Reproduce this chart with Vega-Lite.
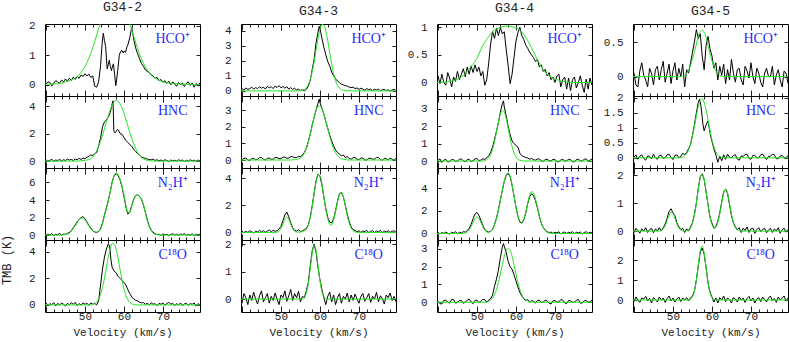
{
"$schema":"https://vega.github.io/schema/vega-lite/v6.json",
"padding":0,
"background":"white",
"title":{"text":"TMB (K)","orient":"left","anchor":"middle","dx":-91,"offset":14,"fontSize":12},
"datasets":{
"labs":[{"p":"a1","m":"HCO⁺"},{"p":"a2","m":"HNC"},{"p":"a3","m":"N₂H⁺"},{"p":"a4","m":"C¹⁸O"},{"p":"b1","m":"HCO⁺"},{"p":"b2","m":"HNC"},{"p":"b3","m":"N₂H⁺"},{"p":"b4","m":"C¹⁸O"},{"p":"c1","m":"HCO⁺"},{"p":"c2","m":"HNC"},{"p":"c3","m":"N₂H⁺"},{"p":"c4","m":"C¹⁸O"},{"p":"d1","m":"HCO⁺"},{"p":"d2","m":"HNC"},{"p":"d3","m":"N₂H⁺"},{"p":"d4","m":"C¹⁸O"}],
"a1":[{"v":39.5,"o":0.05,"f":0.02},{"v":40,"o":0.02,"f":0.02},{"v":40.5,"o":0.1},{"v":41,"o":0.08,"f":0.02},{"v":41.5,"o":-0.04},{"v":42,"o":0.06,"f":0.03},{"v":42.5,"o":0.14},{"v":43,"o":0.1,"f":0.04},{"v":43.5,"o":0.05},{"v":44,"o":0.16,"f":0.06},{"v":44.5,"o":0.1},{"v":45,"o":0.2,"f":0.1},{"v":45.5,"o":0.12},{"v":46,"o":0.22,"f":0.14},{"v":46.5,"o":0.15},{"v":47,"o":0.26,"f":0.2},{"v":47.5,"o":0.18},{"v":48,"o":0.28,"f":0.28},{"v":48.5,"o":0.22},{"v":49,"o":0.33,"f":0.42},{"v":49.5,"o":0.28},{"v":50,"o":0.37,"f":0.62},{"v":50.5,"o":0.3},{"v":51,"o":0.36,"f":0.9},{"v":51.5,"o":0.25},{"v":52,"o":0.3,"f":1.26},{"v":52.5,"o":-0.05},{"v":53,"o":-0.08,"f":1.68},{"v":53.5,"o":0.1},{"v":54,"o":0.65,"f":2.12},{"v":54.4,"o":1.4},{"v":54.7,"o":1.75},{"v":55,"o":1.5,"f":2.52},{"v":55.3,"o":1.29},{"v":55.7,"o":0.54},{"v":56,"o":0.7,"f":2.85},{"v":56.25,"o":0.83},{"v":56.5,"o":0.62},{"v":56.8,"o":0.48},{"v":57,"o":0.6,"f":3.04},{"v":57.3,"o":0.71},{"v":57.6,"o":0.35},{"v":57.9,"o":-0.03},{"v":58,"o":0.05,"f":3.07},{"v":58.4,"o":0.48},{"v":58.8,"o":1},{"v":59,"o":1.08,"f":2.94},{"v":59.4,"o":1.17},{"v":59.8,"o":1.08},{"v":60,"o":1.14,"f":2.66},{"v":60.4,"o":1.1},{"v":60.8,"o":1.3},{"v":61,"o":1.35,"f":2.29},{"v":61.5,"o":1.6},{"v":62,"o":1.95,"f":1.86},{"v":62.5,"o":1.55},{"v":63,"o":1.25,"f":1.43},{"v":63.5,"o":1.05},{"v":64,"o":0.88,"f":1.04},{"v":64.5,"o":0.72},{"v":65,"o":0.62,"f":0.72},{"v":65.5,"o":0.5},{"v":66,"o":0.45,"f":0.5},{"v":66.5,"o":0.42},{"v":67,"o":0.33,"f":0.33},{"v":67.5,"o":0.3},{"v":68,"o":0.22,"f":0.22},{"v":68.5,"o":0.25},{"v":69,"o":0.14,"f":0.15},{"v":69.5,"o":0.18},{"v":70,"o":0.08,"f":0.1},{"v":70.5,"o":0.14},{"v":71,"o":0.05,"f":0.07},{"v":71.5,"o":0.12},{"v":72,"o":0,"f":0.05},{"v":72.5,"o":0.1},{"v":73,"o":0.03,"f":0.04},{"v":73.5,"o":-0.05},{"v":74,"o":0.08,"f":0.03},{"v":74.5,"o":0},{"v":75,"o":0.06,"f":0.02},{"v":75.5,"o":-0.06},{"v":76,"o":0.05,"f":0.015},{"v":76.5,"o":0.1},{"v":77,"o":-0.02,"f":0.01},{"v":77.5,"o":0.06},{"v":78,"o":-0.08,"f":0.01},{"v":78.5,"o":0.04},{"v":79,"o":0,"f":0.01},{"v":79.5,"o":0.06,"f":0.01}],
"a2":[{"v":39.5,"o":0.05,"f":0},{"v":40,"o":0.1},{"v":40.5,"o":-0.02},{"v":41,"o":0.06},{"v":41.5,"o":0.12},{"v":42,"o":0},{"v":42.5,"o":0.08},{"v":43,"o":0.04},{"v":43.5,"o":0.12},{"v":44,"o":0.02},{"v":44.5,"o":0.1},{"v":45,"o":0.05},{"v":45.5,"o":0.14},{"v":46,"o":0.08},{"v":46.5,"o":0.12},{"v":47,"o":0.05},{"v":47.5,"o":0.15},{"v":48,"o":0.1,"f":0},{"v":48.5,"o":0.2},{"v":49,"o":0.12,"f":0.02},{"v":49.5,"o":0.22},{"v":50,"o":0.18,"f":0.06},{"v":50.5,"o":0.28},{"v":51,"o":0.35,"f":0.12},{"v":51.5,"o":0.45},{"v":52,"o":0.4,"f":0.3},{"v":52.5,"o":0.55},{"v":53,"o":0.62,"f":0.75},{"v":53.5,"o":1.1},{"v":54,"o":1.7,"f":1.45},{"v":54.5,"o":2.5},{"v":55,"o":2.85,"f":2.36},{"v":55.5,"o":3},{"v":56,"o":3.2,"f":3.31},{"v":56.5,"o":3.55},{"v":57,"o":4.2,"f":4.08},{"v":57.2,"o":4.38},{"v":57.4,"o":2.2},{"v":57.7,"o":2.05},{"v":58,"o":2.15,"f":4.41},{"v":58.3,"o":2.3},{"v":58.6,"o":2.25},{"v":59,"o":2,"f":4.18},{"v":59.5,"o":1.95},{"v":60,"o":1.72,"f":3.49},{"v":60.5,"o":1.5},{"v":61,"o":1.35,"f":2.55},{"v":61.5,"o":1.2},{"v":62,"o":1.08,"f":1.64},{"v":62.5,"o":0.85},{"v":63,"o":0.7,"f":0.93},{"v":63.5,"o":0.55},{"v":64,"o":0.42,"f":0.4},{"v":64.5,"o":0.3},{"v":65,"o":0.25,"f":0.15},{"v":65.5,"o":0.2},{"v":66,"o":0.15,"f":0.06},{"v":66.5,"o":0.12},{"v":67,"o":0.1,"f":0.02},{"v":67.5,"o":0.14},{"v":68,"o":0.05,"f":0},{"v":68.5,"o":0.1},{"v":69,"o":0.02},{"v":69.5,"o":0.08},{"v":70,"o":0},{"v":70.5,"o":0.1},{"v":71,"o":0.04},{"v":71.5,"o":-0.04},{"v":72,"o":0.08},{"v":72.5,"o":0.02},{"v":73,"o":0.06},{"v":73.5,"o":0},{"v":74,"o":0.1},{"v":74.5,"o":0.03},{"v":75,"o":0.08},{"v":75.5,"o":-0.03},{"v":76,"o":0.06},{"v":76.5,"o":0},{"v":77,"o":0.1},{"v":77.5,"o":0.02},{"v":78,"o":0.07},{"v":78.5,"o":-0.02},{"v":79,"o":0.08},{"v":79.5,"o":0.03,"f":0}],
"a3":[{"v":39.5,"o":0.1,"f":0},{"v":40,"o":-0.05},{"v":40.5,"o":0.12},{"v":41,"o":0.02},{"v":41.5,"o":0.15},{"v":42,"o":-0.08},{"v":42.5,"o":0.1},{"v":43,"o":0.05},{"v":43.5,"o":0.18,"f":0},{"v":44,"o":0,"f":0.02},{"v":44.5,"o":0.12,"f":0.04},{"v":45,"o":0.08,"f":0.06},{"v":45.5,"o":0.2,"f":0.12},{"v":46,"o":0.3,"f":0.2},{"v":46.5,"o":0.5,"f":0.45},{"v":47,"o":0.85,"f":0.75},{"v":47.5,"o":1.15,"f":1.05},{"v":48,"o":1.5,"f":1.4},{"v":48.5,"o":1.8,"f":1.75},{"v":49,"o":2,"f":1.92},{"v":49.5,"o":2.1,"f":1.95},{"v":50,"o":1.85,"f":1.75},{"v":50.5,"o":1.5,"f":1.4},{"v":51,"o":1.1,"f":1.05},{"v":51.5,"o":0.8,"f":0.7},{"v":52,"o":0.5,"f":0.45},{"v":52.5,"o":0.35,"f":0.35},{"v":53,"o":0.3,"f":0.35},{"v":53.5,"o":0.4,"f":0.45},{"v":54,"o":0.7,"f":0.65},{"v":54.5,"o":1.4,"f":1.3},{"v":55,"o":2.3,"f":2.2},{"v":55.5,"o":3.1,"f":3},{"v":56,"o":4,"f":3.9},{"v":56.5,"o":5,"f":5},{"v":57,"o":6.1,"f":6},{"v":57.5,"o":6.8,"f":6.8},{"v":58,"o":7,"f":7.1},{"v":58.5,"o":6.8,"f":6.9},{"v":59,"o":6.3,"f":6.4},{"v":59.5,"o":5.5,"f":5.6},{"v":60,"o":4.4,"f":4.6},{"v":60.5,"o":3.2,"f":3.4},{"v":61,"o":2.4,"f":2.55},{"v":61.5,"o":2.6,"f":2.6},{"v":62,"o":3.4,"f":3.3},{"v":62.5,"o":4.1,"f":4},{"v":63,"o":4.5,"f":4.45},{"v":63.5,"o":4.6,"f":4.6},{"v":64,"o":4.4,"f":4.45},{"v":64.5,"o":4.1,"f":4},{"v":65,"o":3.4,"f":3.5},{"v":65.5,"o":2.6,"f":2.5},{"v":66,"o":1.7,"f":1.6},{"v":66.5,"o":1,"f":0.95},{"v":67,"o":0.55,"f":0.5},{"v":67.5,"o":0.3,"f":0.2},{"v":68,"o":0.15,"f":0.1},{"v":68.5,"o":0.05,"f":0.05},{"v":69,"o":0.1,"f":0.02},{"v":69.5,"o":-0.05,"f":0},{"v":70,"o":0.12},{"v":70.5,"o":0.02},{"v":71,"o":0.1},{"v":71.5,"o":-0.06},{"v":72,"o":0.08},{"v":72.5,"o":0.15},{"v":73,"o":0},{"v":73.5,"o":0.1},{"v":74,"o":-0.05},{"v":74.5,"o":0.12},{"v":75,"o":0.05},{"v":75.5,"o":0.18},{"v":76,"o":-0.04},{"v":76.5,"o":0.08},{"v":77,"o":0},{"v":77.5,"o":0.14},{"v":78,"o":-0.08},{"v":78.5,"o":0.1},{"v":79,"o":0.04},{"v":79.5,"o":0.12,"f":0}],
"a4":[{"v":39.5,"o":0.05,"f":0},{"v":40,"o":0.15},{"v":40.5,"o":-0.05},{"v":41,"o":0.1},{"v":41.5,"o":0.02},{"v":42,"o":0.18},{"v":42.5,"o":-0.08},{"v":43,"o":0.12},{"v":43.5,"o":0},{"v":44,"o":0.15},{"v":44.5,"o":0.05},{"v":45,"o":-0.08},{"v":45.5,"o":0.12},{"v":46,"o":0.02},{"v":46.5,"o":0.16},{"v":47,"o":0.05},{"v":47.5,"o":0.2},{"v":48,"o":-0.05},{"v":48.5,"o":0.1},{"v":49,"o":0},{"v":49.5,"o":0.15},{"v":50,"o":0.05},{"v":50.5,"o":0.12},{"v":51,"o":-0.02},{"v":51.5,"o":0.15,"f":0},{"v":52,"o":0.05,"f":0.04},{"v":52.5,"o":0.12,"f":0.1},{"v":53,"o":0,"f":0.22},{"v":53.5,"o":0.3,"f":0.43},{"v":54,"o":1.5,"f":0.79},{"v":54.5,"o":2.7,"f":1.32},{"v":55,"o":3.6,"f":2.01},{"v":55.5,"o":4.2,"f":2.82},{"v":56,"o":4.6,"f":3.62},{"v":56.3,"o":4.45},{"v":56.5,"f":4.27,"o":3.9},{"v":56.7,"o":3.3},{"v":57,"o":2.8,"f":4.62},{"v":57.5,"o":2.55,"f":4.58},{"v":58,"o":2.4,"f":4.16},{"v":58.5,"o":2.15,"f":3.47},{"v":59,"o":2,"f":2.66},{"v":59.5,"o":1.85,"f":1.87},{"v":60,"o":1.7,"f":1.2},{"v":60.5,"o":1.5,"f":0.71},{"v":61,"o":1.15,"f":0.38},{"v":61.5,"o":0.85,"f":0.2},{"v":62,"o":0.6,"f":0.09},{"v":62.5,"o":0.45,"f":0.04},{"v":63,"o":0.35,"f":0.01},{"v":63.5,"o":0.3,"f":0},{"v":64,"o":0.22},{"v":64.5,"o":0.15},{"v":65,"o":0.18},{"v":65.5,"o":0.05},{"v":66,"o":0.12},{"v":66.5,"o":0.02},{"v":67,"o":0.15},{"v":67.5,"o":0.05},{"v":68,"o":0.1},{"v":68.5,"o":-0.05},{"v":69,"o":0.12},{"v":69.5,"o":0.05},{"v":70,"o":0.15},{"v":70.5,"o":-0.02},{"v":71,"o":0.1},{"v":71.5,"o":0.2},{"v":72,"o":0.05},{"v":72.5,"o":0.12},{"v":73,"o":-0.05},{"v":73.5,"o":0.1},{"v":74,"o":0},{"v":74.5,"o":0.15},{"v":75,"o":-0.05},{"v":75.5,"o":0.08},{"v":76,"o":0.12},{"v":76.5,"o":-0.02},{"v":77,"o":0.1},{"v":77.5,"o":0.05},{"v":78,"o":0.15},{"v":78.5,"o":-0.08},{"v":79,"o":0.1},{"v":79.5,"o":0,"f":0}],
"b1":[{"v":39.5,"o":0.1,"f":0},{"v":40,"o":0.18},{"v":40.5,"o":0.05},{"v":41,"o":0.2},{"v":41.5,"o":0.1},{"v":42,"o":0.15},{"v":42.5,"o":0.25},{"v":43,"o":0.12},{"v":43.5,"o":0.22},{"v":44,"o":0.15},{"v":44.5,"o":0.28},{"v":45,"o":0.18},{"v":45.5,"o":0.25},{"v":46,"o":0.12},{"v":46.5,"o":0.3},{"v":47,"o":0.2},{"v":47.5,"o":0.28},{"v":48,"o":0.15},{"v":48.5,"o":0.32},{"v":49,"o":0.22},{"v":49.5,"o":0.35},{"v":50,"o":0.2},{"v":50.5,"o":0.3},{"v":51,"o":0.18},{"v":51.5,"o":0.28},{"v":52,"o":0.12},{"v":52.5,"o":0.22},{"v":53,"o":0.1},{"v":53.5,"o":0.18},{"v":54,"o":0.05},{"v":54.5,"o":0.12,"f":0},{"v":55,"o":0.02,"f":0.02},{"v":55.5,"o":0.08,"f":0.05},{"v":56,"o":0,"f":0.1},{"v":56.5,"o":0.1,"f":0.2},{"v":57,"o":0.3,"f":0.42},{"v":57.5,"o":0.7,"f":0.76},{"v":58,"o":1.4,"f":1.27},{"v":58.5,"o":2.1,"f":1.93},{"v":59,"o":3.2,"f":2.7},{"v":59.5,"o":3.9,"f":3.47},{"v":59.8,"o":4.3},{"v":60,"o":4.1,"f":4.09},{"v":60.2,"o":3.9},{"v":60.5,"o":3.5,"f":4.42},{"v":61,"o":2.9,"f":4.38},{"v":61.5,"o":2.4,"f":3.99},{"v":62,"o":1.95,"f":3.33},{"v":62.5,"o":1.65,"f":2.54},{"v":63,"o":1.25,"f":1.79},{"v":63.5,"o":1,"f":1.15},{"v":64,"o":0.8,"f":0.68},{"v":64.5,"o":0.65,"f":0.37},{"v":65,"o":0.55,"f":0.18},{"v":65.5,"o":0.45,"f":0.08},{"v":66,"o":0.4,"f":0.04},{"v":66.5,"o":0.35,"f":0.02},{"v":67,"o":0.32,"f":0.01},{"v":67.5,"o":0.25,"f":0},{"v":68,"o":0.22},{"v":68.5,"o":0.25},{"v":69,"o":0.15},{"v":69.5,"o":0.2},{"v":70,"o":0.1},{"v":70.5,"o":0.18},{"v":71,"o":0.12},{"v":71.5,"o":0.05},{"v":72,"o":0.15},{"v":72.5,"o":0.08},{"v":73,"o":0.12},{"v":73.5,"o":0.02},{"v":74,"o":0.1},{"v":74.5,"o":0.05},{"v":75,"o":0.12},{"v":75.5,"o":0},{"v":76,"o":0.08},{"v":76.5,"o":0.1},{"v":77,"o":0.02},{"v":77.5,"o":0.08},{"v":78,"o":-0.02},{"v":78.5,"o":0.06},{"v":79,"o":0.1},{"v":79.5,"o":0.02,"f":0}],
"b2":[{"v":39.5,"o":0.05,"f":0},{"v":40,"o":0.02},{"v":40.5,"o":0.1},{"v":41,"o":0.12},{"v":41.5,"o":0},{"v":42,"o":-0.03},{"v":42.5,"o":0.08},{"v":43,"o":0.1},{"v":43.5,"o":0.02},{"v":44,"o":0.05},{"v":44.5,"o":0.14},{"v":45,"o":0.15},{"v":45.5,"o":0.05},{"v":46,"o":0},{"v":46.5,"o":0.1},{"v":47,"o":0.12},{"v":47.5,"o":0.04},{"v":48,"o":0.05},{"v":48.5,"o":0.15},{"v":49,"o":0.15},{"v":49.5,"o":0.08},{"v":50,"o":0.08},{"v":50.5,"o":0.16},{"v":51,"o":0.18},{"v":51.5,"o":0.1},{"v":52,"o":0.12},{"v":52.5,"o":0.2,"f":0},{"v":53,"o":0.2,"f":0.01},{"v":53.5,"o":0.15,"f":0.02},{"v":54,"o":0.15,"f":0.03},{"v":54.5,"o":0.22,"f":0.06},{"v":55,"o":0.2,"f":0.12},{"v":55.5,"o":0.3,"f":0.22},{"v":56,"o":0.45,"f":0.41},{"v":56.5,"o":0.7,"f":0.69},{"v":57,"o":1.1,"f":1.06},{"v":57.5,"o":1.55,"f":1.53},{"v":58,"o":2.1,"f":2.04},{"v":58.5,"o":2.55,"f":2.55},{"v":59,"o":3,"f":2.97},{"v":59.5,"o":3.4,"f":3.21},{"v":59.8,"o":3.65},{"v":60,"o":3.45,"f":3.24},{"v":60.2,"o":3.3},{"v":60.5,"o":3.1,"f":3.07},{"v":61,"o":2.75,"f":2.76},{"v":61.5,"o":2.3,"f":2.34},{"v":62,"o":1.9,"f":1.87},{"v":62.5,"o":1.5,"f":1.42},{"v":63,"o":1.15,"f":1.01},{"v":63.5,"o":0.85,"f":0.69},{"v":64,"o":0.6,"f":0.44},{"v":64.5,"o":0.45,"f":0.27},{"v":65,"o":0.35,"f":0.15},{"v":65.5,"o":0.25,"f":0.08},{"v":66,"o":0.3,"f":0.04},{"v":66.5,"o":0.15,"f":0.02},{"v":67,"o":0.2,"f":0.01},{"v":67.5,"o":0.1,"f":0},{"v":68,"o":0.05},{"v":68.5,"o":0.14},{"v":69,"o":0.15},{"v":69.5,"o":0.05},{"v":70,"o":0.02},{"v":70.5,"o":0.12},{"v":71,"o":0.12},{"v":71.5,"o":0},{"v":72,"o":0},{"v":72.5,"o":0.1},{"v":73,"o":0.1},{"v":73.5,"o":0.05},{"v":74,"o":0.05},{"v":74.5,"o":0.15},{"v":75,"o":0.15},{"v":75.5,"o":0.03},{"v":76,"o":-0.02},{"v":76.5,"o":0.1},{"v":77,"o":0.08},{"v":77.5,"o":0},{"v":78,"o":0.12},{"v":78.5,"o":0.05},{"v":79,"o":0},{"v":79.5,"o":0.1,"f":0}],
"b3":[{"v":39.5,"o":0.05,"f":0},{"v":40,"o":0.1},{"v":40.5,"o":-0.02},{"v":41,"o":0.08},{"v":41.5,"o":0},{"v":42,"o":0.12},{"v":42.5,"o":0.05},{"v":43,"o":-0.05},{"v":43.5,"o":0.1},{"v":44,"o":0.02},{"v":44.5,"o":0.15},{"v":45,"o":0.05},{"v":45.5,"o":0.12},{"v":46,"o":0},{"v":46.5,"o":0.1},{"v":47,"o":0.18},{"v":47.5,"o":0.05},{"v":48,"o":0.15},{"v":48.5,"o":0.08,"f":0},{"v":49,"o":0.12,"f":0.02},{"v":49.5,"o":0.25,"f":0.09},{"v":50,"o":0.45,"f":0.28},{"v":50.5,"o":0.85,"f":0.6},{"v":51,"o":1.3,"f":0.97},{"v":51.5,"o":1.5,"f":1.13},{"v":52,"o":1.15,"f":0.97},{"v":52.5,"o":0.7,"f":0.6},{"v":53,"o":0.35,"f":0.28},{"v":53.5,"o":0.15,"f":0.09},{"v":54,"o":0.1,"f":0.03},{"v":54.5,"o":0.2,"f":0.02},{"v":55,"o":0.05,"f":0.03},{"v":55.5,"o":0.12,"f":0.06},{"v":56,"o":0.2,"f":0.12},{"v":56.5,"o":0.3,"f":0.22},{"v":57,"o":0.55,"f":0.53},{"v":57.5,"o":1.1,"f":1.07},{"v":58,"o":1.95,"f":1.87},{"v":58.5,"o":2.9,"f":2.84},{"v":59,"o":3.8,"f":3.73},{"v":59.5,"o":4.3,"f":4.25},{"v":60,"o":4.15,"f":4.19},{"v":60.5,"o":3.5,"f":3.58},{"v":61,"o":2.6,"f":2.64},{"v":61.5,"o":1.75,"f":1.7},{"v":62,"o":1.1,"f":1},{"v":62.5,"o":0.75,"f":0.6},{"v":63,"o":0.7,"f":0.55},{"v":63.5,"o":1,"f":0.92},{"v":64,"o":1.6,"f":1.54},{"v":64.5,"o":2.3,"f":2.25},{"v":65,"o":2.85,"f":2.8},{"v":65.5,"o":2.95,"f":2.94},{"v":66,"o":2.6,"f":2.62},{"v":66.5,"o":2,"f":1.97},{"v":67,"o":1.35,"f":1.26},{"v":67.5,"o":0.8,"f":0.68},{"v":68,"o":0.4,"f":0.31},{"v":68.5,"o":0.2,"f":0.12},{"v":69,"o":0.15,"f":0.04},{"v":69.5,"o":0.05,"f":0.01},{"v":70,"o":0.12,"f":0},{"v":70.5,"o":0},{"v":71,"o":0.1},{"v":71.5,"o":0.05},{"v":72,"o":0.15},{"v":72.5,"o":-0.02},{"v":73,"o":0.08},{"v":73.5,"o":0.12},{"v":74,"o":0},{"v":74.5,"o":0.1},{"v":75,"o":0.05},{"v":75.5,"o":0.15},{"v":76,"o":-0.03},{"v":76.5,"o":0.1},{"v":77,"o":0.04},{"v":77.5,"o":0.12},{"v":78,"o":0},{"v":78.5,"o":0.08},{"v":79,"o":0.12},{"v":79.5,"o":0.02,"f":0}],
"b4":[{"v":39.5,"o":0.1,"f":0},{"v":40,"o":-0.15},{"v":40.5,"o":0.2},{"v":41,"o":0.05},{"v":41.5,"o":-0.2},{"v":42,"o":0.15},{"v":42.5,"o":-0.05},{"v":43,"o":0.25},{"v":43.5,"o":0},{"v":44,"o":-0.18},{"v":44.5,"o":0.12},{"v":45,"o":0.3},{"v":45.5,"o":-0.1},{"v":46,"o":0.05},{"v":46.5,"o":0.2},{"v":47,"o":-0.15},{"v":47.5,"o":0.1},{"v":48,"o":-0.05},{"v":48.5,"o":0.22},{"v":49,"o":0},{"v":49.5,"o":-0.2},{"v":50,"o":0.15},{"v":50.5,"o":0.05},{"v":51,"o":0.3},{"v":51.5,"o":-0.08},{"v":52,"o":0.12},{"v":52.5,"o":0.35},{"v":53,"o":-0.05},{"v":53.5,"o":0.2},{"v":54,"o":0.05},{"v":54.5,"o":0.28},{"v":55,"o":-0.1,"f":0},{"v":55.5,"o":0.1,"f":0.02},{"v":56,"o":0.05,"f":0.07},{"v":56.5,"o":0.3,"f":0.22},{"v":57,"o":0.6,"f":0.56},{"v":57.5,"o":1.2,"f":1.1},{"v":58,"o":1.75,"f":1.67},{"v":58.5,"o":2,"f":1.96},{"v":59,"o":1.7,"f":1.76},{"v":59.5,"o":1.15,"f":1.23},{"v":60,"o":0.7,"f":0.66},{"v":60.5,"o":0.35,"f":0.27},{"v":61,"o":0.05,"f":0.09},{"v":61.5,"o":-0.2,"f":0.02},{"v":62,"o":0.1,"f":0},{"v":62.5,"o":0.25},{"v":63,"o":-0.1},{"v":63.5,"o":0.15},{"v":64,"o":-0.2},{"v":64.5,"o":0.05},{"v":65,"o":0.2},{"v":65.5,"o":-0.15},{"v":66,"o":0.1},{"v":66.5,"o":0},{"v":67,"o":0.22},{"v":67.5,"o":-0.1},{"v":68,"o":0.15},{"v":68.5,"o":-0.05},{"v":69,"o":0.18},{"v":69.5,"o":0},{"v":70,"o":-0.15},{"v":70.5,"o":0.1},{"v":71,"o":0.2},{"v":71.5,"o":-0.08},{"v":72,"o":0.05},{"v":72.5,"o":0.2},{"v":73,"o":-0.12},{"v":73.5,"o":0.1},{"v":74,"o":0},{"v":74.5,"o":0.25},{"v":75,"o":-0.1},{"v":75.5,"o":0.12},{"v":76,"o":0.02},{"v":76.5,"o":-0.18},{"v":77,"o":0.15},{"v":77.5,"o":0.05},{"v":78,"o":0.22},{"v":78.5,"o":-0.05},{"v":79,"o":0.1},{"v":79.5,"o":-0.1,"f":0}],
"c1":[{"v":39.5,"o":0.05,"f":0},{"v":40,"o":0.12,"f":0},{"v":40.5,"o":-0.02},{"v":41,"o":0.15,"f":0.01},{"v":41.5,"o":0},{"v":42,"o":-0.05,"f":0.01},{"v":42.5,"o":0.18},{"v":43,"o":0.08,"f":0.02},{"v":43.5,"o":-0.08},{"v":44,"o":0.1,"f":0.03},{"v":44.5,"o":0.02},{"v":45,"o":0.2,"f":0.06},{"v":45.5,"o":0.05},{"v":46,"o":0.15,"f":0.1},{"v":46.5,"o":0.25},{"v":47,"o":0.1,"f":0.16},{"v":47.5,"o":0.28},{"v":48,"o":0.15,"f":0.25},{"v":48.5,"o":0.3},{"v":49,"o":0.18,"f":0.33},{"v":49.5,"o":0.32},{"v":50,"o":0.2,"f":0.44},{"v":50.5,"o":0.28},{"v":51,"o":0.12,"f":0.6},{"v":51.5,"o":0.2},{"v":52,"o":-0.05,"f":0.73},{"v":52.5,"o":0.05},{"v":53,"o":0.35,"f":0.83},{"v":53.5,"o":0.7},{"v":54,"o":0.92,"f":0.92},{"v":54.5,"o":0.8},{"v":55,"o":0.98,"f":0.97},{"v":55.5,"o":0.85},{"v":56,"o":1,"f":1},{"v":56.5,"o":0.88},{"v":57,"o":0.92,"f":1.02},{"v":57.5,"o":0.6},{"v":58,"o":0.3,"f":1.02},{"v":58.5,"o":-0.02},{"v":59,"o":0.15,"f":1.01},{"v":59.5,"o":0.45},{"v":60,"o":0.75,"f":0.99},{"v":60.5,"o":0.9},{"v":61,"o":1,"f":0.95},{"v":61.5,"o":0.85},{"v":62,"o":0.78,"f":0.87},{"v":62.5,"o":0.68},{"v":63,"o":0.62,"f":0.76},{"v":63.5,"o":0.55},{"v":64,"o":0.5,"f":0.63},{"v":64.5,"o":0.45},{"v":65,"o":0.38,"f":0.48},{"v":65.5,"o":0.42},{"v":66,"o":0.28,"f":0.35},{"v":66.5,"o":0.32},{"v":67,"o":0.2,"f":0.23},{"v":67.5,"o":0.24},{"v":68,"o":0.12,"f":0.15},{"v":68.5,"o":0.18},{"v":69,"o":0.05,"f":0.1},{"v":69.5,"o":0.1},{"v":70,"o":0,"f":0.06},{"v":70.5,"o":0.12},{"v":71,"o":0.15,"f":0.04},{"v":71.5,"o":-0.08},{"v":72,"o":0.05,"f":0.02},{"v":72.5,"o":0.1},{"v":73,"o":-0.12,"f":0.01},{"v":73.5,"o":0.08},{"v":74,"o":-0.15,"f":0},{"v":74.5,"o":0.05},{"v":75,"o":0.1},{"v":75.5,"o":-0.1},{"v":76,"o":0},{"v":76.5,"o":0.12},{"v":77,"o":-0.05},{"v":77.5,"o":-0.18},{"v":78,"o":0.06},{"v":78.5,"o":-0.12},{"v":79,"o":0.08},{"v":79.5,"o":-0.05,"f":0}],
"c2":[{"v":39.5,"o":0,"f":0},{"v":40,"o":0.05},{"v":40.5,"o":0.12},{"v":41,"o":-0.08},{"v":41.5,"o":0.05},{"v":42,"o":0.1},{"v":42.5,"o":-0.05},{"v":43,"o":-0.03},{"v":43.5,"o":0.08},{"v":44,"o":0.08},{"v":44.5,"o":-0.02},{"v":45,"o":0},{"v":45.5,"o":0.1},{"v":46,"o":0.12},{"v":46.5,"o":0.02},{"v":47,"o":-0.05},{"v":47.5,"o":0.08},{"v":48,"o":0.1},{"v":48.5,"o":-0.04},{"v":49,"o":0.02},{"v":49.5,"o":0.12},{"v":50,"o":0.15},{"v":50.5,"o":0.02},{"v":51,"o":0.05},{"v":51.5,"o":0.12,"f":0},{"v":52,"o":0.1,"f":0.03},{"v":52.5,"o":0.18,"f":0.08},{"v":53,"o":0.3,"f":0.17},{"v":53.5,"o":0.5,"f":0.36},{"v":54,"o":0.8,"f":0.67},{"v":54.5,"o":1.25,"f":1.11},{"v":55,"o":1.7,"f":1.66},{"v":55.5,"o":2.2,"f":2.23},{"v":56,"o":2.8,"f":2.68},{"v":56.5,"o":3.3,"f":2.9},{"v":56.8,"o":3.45},{"v":57,"o":3.1,"f":2.8},{"v":57.5,"o":2.6,"f":2.43},{"v":58,"o":2,"f":1.89},{"v":58.5,"o":1.5,"f":1.32},{"v":59,"o":1.15,"f":0.83},{"v":59.5,"o":1,"f":0.46},{"v":60,"o":0.9,"f":0.24},{"v":60.5,"o":0.8,"f":0.11},{"v":61,"o":0.45,"f":0.04},{"v":61.5,"o":0.3,"f":0.02},{"v":62,"o":0.25,"f":0},{"v":62.5,"o":0.2},{"v":63,"o":0.18},{"v":63.5,"o":0.1},{"v":64,"o":0.15},{"v":64.5,"o":0.08},{"v":65,"o":0.05},{"v":65.5,"o":0.12},{"v":66,"o":0.12},{"v":66.5,"o":0},{"v":67,"o":-0.02},{"v":67.5,"o":0.08},{"v":68,"o":0.1},{"v":68.5,"o":0.02},{"v":69,"o":0},{"v":69.5,"o":0.1},{"v":70,"o":0.08},{"v":70.5,"o":-0.03},{"v":71,"o":-0.05},{"v":71.5,"o":0.06},{"v":72,"o":0.1},{"v":72.5,"o":0},{"v":73,"o":0.02},{"v":73.5,"o":0.1},{"v":74,"o":0.08},{"v":74.5,"o":-0.04},{"v":75,"o":-0.05},{"v":75.5,"o":0.08},{"v":76,"o":0.1},{"v":76.5,"o":0.02},{"v":77,"o":0},{"v":77.5,"o":0.1},{"v":78,"o":0.12},{"v":78.5,"o":0},{"v":79,"o":0.05},{"v":79.5,"o":0.12,"f":0}],
"c3":[{"v":39.5,"o":0.05,"f":0},{"v":40,"o":0.1},{"v":40.5,"o":-0.05},{"v":41,"o":0.08},{"v":41.5,"o":0},{"v":42,"o":0.12},{"v":42.5,"o":0.02},{"v":43,"o":-0.06},{"v":43.5,"o":0.1},{"v":44,"o":0.05},{"v":44.5,"o":0.15},{"v":45,"o":-0.02},{"v":45.5,"o":0.1},{"v":46,"o":0.05,"f":0},{"v":46.5,"o":0.15,"f":0.01},{"v":47,"o":0.12,"f":0.04},{"v":47.5,"o":0.25,"f":0.12},{"v":48,"o":0.45,"f":0.29},{"v":48.5,"o":0.8,"f":0.59},{"v":49,"o":1.3,"f":0.97},{"v":49.5,"o":1.7,"f":1.31},{"v":50,"o":1.85,"f":1.45},{"v":50.5,"o":1.6,"f":1.31},{"v":51,"o":1.15,"f":0.97},{"v":51.5,"o":0.7,"f":0.59},{"v":52,"o":0.35,"f":0.29},{"v":52.5,"o":0.2,"f":0.12},{"v":53,"o":0.12,"f":0.1},{"v":53.5,"o":0.2,"f":0.18},{"v":54,"o":0.35,"f":0.38},{"v":54.5,"o":0.8,"f":0.79},{"v":55,"o":1.35,"f":1.32},{"v":55.5,"o":2.1,"f":2.04},{"v":56,"o":2.95,"f":2.9},{"v":56.5,"o":3.8,"f":3.82},{"v":57,"o":4.6,"f":4.63},{"v":57.5,"o":5.1,"f":5.19},{"v":58,"o":5.3,"f":5.36},{"v":58.5,"o":5,"f":5.05},{"v":59,"o":4.25,"f":4.3},{"v":59.5,"o":3.3,"f":3.32},{"v":60,"o":2.3,"f":2.32},{"v":60.5,"o":1.5,"f":1.55},{"v":61,"o":1,"f":1.07},{"v":61.5,"o":0.9,"f":0.97},{"v":62,"o":1.2,"f":1.25},{"v":62.5,"o":1.8,"f":1.87},{"v":63,"o":2.6,"f":2.65},{"v":63.5,"o":3.25,"f":3.35},{"v":64,"o":3.5,"f":3.69},{"v":64.5,"o":3.35,"f":3.56},{"v":65,"o":2.9,"f":3.05},{"v":65.5,"o":2.25,"f":2.32},{"v":66,"o":1.5,"f":1.57},{"v":66.5,"o":0.9,"f":0.94},{"v":67,"o":0.5,"f":0.5},{"v":67.5,"o":0.3,"f":0.24},{"v":68,"o":0.15,"f":0.1},{"v":68.5,"o":0.08,"f":0.04},{"v":69,"o":0.12,"f":0.01},{"v":69.5,"o":0,"f":0},{"v":70,"o":0.1},{"v":70.5,"o":0.05},{"v":71,"o":0.15},{"v":71.5,"o":-0.05},{"v":72,"o":0.08},{"v":72.5,"o":0.12},{"v":73,"o":0},{"v":73.5,"o":0.1},{"v":74,"o":0.05},{"v":74.5,"o":0.15},{"v":75,"o":-0.02},{"v":75.5,"o":0.1},{"v":76,"o":0.05},{"v":76.5,"o":0.12},{"v":77,"o":-0.05},{"v":77.5,"o":0.08},{"v":78,"o":0.15},{"v":78.5,"o":0},{"v":79,"o":0.1},{"v":79.5,"o":0.05,"f":0}],
"c4":[{"v":39.5,"o":0.1,"f":0},{"v":40,"o":0.05},{"v":40.5,"o":-0.08},{"v":41,"o":-0.1},{"v":41.5,"o":0.1},{"v":42,"o":0.12},{"v":42.5,"o":0},{"v":43,"o":-0.05},{"v":43.5,"o":0.15},{"v":44,"o":0.15},{"v":44.5,"o":-0.05},{"v":45,"o":-0.02},{"v":45.5,"o":0.1},{"v":46,"o":0.1},{"v":46.5,"o":-0.06},{"v":47,"o":0},{"v":47.5,"o":0.12},{"v":48,"o":0.18},{"v":48.5,"o":0.02},{"v":49,"o":-0.08},{"v":49.5,"o":0.1},{"v":50,"o":0.12},{"v":50.5,"o":-0.03},{"v":51,"o":0.05},{"v":51.5,"o":0.15},{"v":52,"o":0.15},{"v":52.5,"o":0,"f":0},{"v":53,"o":0.12,"f":0.05},{"v":53.5,"o":0.2,"f":0.12},{"v":54,"o":0.4,"f":0.23},{"v":54.5,"o":0.9,"f":0.42},{"v":55,"o":1.3,"f":0.71},{"v":55.5,"o":1.8,"f":1.11},{"v":56,"o":2.5,"f":1.59},{"v":56.5,"o":3.1,"f":2.11},{"v":56.8,"o":3.3},{"v":57,"o":3.15,"f":2.58},{"v":57.5,"o":2.8,"f":2.91},{"v":58,"o":2.3,"f":3.03},{"v":58.5,"o":2,"f":2.91},{"v":59,"o":1.85,"f":2.58},{"v":59.5,"o":1.55,"f":2.11},{"v":60,"o":1.2,"f":1.59},{"v":60.5,"o":0.85,"f":1.11},{"v":61,"o":0.55,"f":0.71},{"v":61.5,"o":0.35,"f":0.42},{"v":62,"o":0.2,"f":0.23},{"v":62.5,"o":0.1,"f":0.12},{"v":63,"o":0.15,"f":0.05},{"v":63.5,"o":0,"f":0.02},{"v":64,"o":0.1,"f":0},{"v":64.5,"o":0.05},{"v":65,"o":-0.05},{"v":65.5,"o":0.1},{"v":66,"o":0.12},{"v":66.5,"o":-0.02},{"v":67,"o":0},{"v":67.5,"o":0.12},{"v":68,"o":0.08},{"v":68.5,"o":-0.06},{"v":69,"o":-0.1},{"v":69.5,"o":0.08},{"v":70,"o":0.1},{"v":70.5,"o":0},{"v":71,"o":0.02},{"v":71.5,"o":0.15},{"v":72,"o":0.12},{"v":72.5,"o":-0.04},{"v":73,"o":-0.08},{"v":73.5,"o":0.1},{"v":74,"o":0.08},{"v":74.5,"o":0},{"v":75,"o":0},{"v":75.5,"o":0.12},{"v":76,"o":0.15},{"v":76.5,"o":-0.05},{"v":77,"o":-0.05},{"v":77.5,"o":0.08},{"v":78,"o":0.1},{"v":78.5,"o":0},{"v":79,"o":0.02},{"v":79.5,"o":0.12,"f":0}],
"d1":[{"v":39.5,"o":0.1,"f":0},{"v":40,"o":0.05},{"v":40.5,"o":-0.12},{"v":41,"o":-0.15},{"v":41.5,"o":0.08},{"v":42,"o":0.2},{"v":42.5,"o":0.02},{"v":43,"o":-0.05},{"v":43.5,"o":-0.15},{"v":44,"o":0.12},{"v":44.5,"o":0.05},{"v":45,"o":-0.12},{"v":45.5,"o":0.1},{"v":46,"o":0.15},{"v":46.5,"o":-0.05},{"v":47,"o":0.1},{"v":47.5,"o":0.22},{"v":48,"o":-0.08},{"v":48.5,"o":0.05},{"v":49,"o":0.18},{"v":49.5,"o":-0.1},{"v":50,"o":0.08},{"v":50.5,"o":0.2},{"v":51,"o":-0.05},{"v":51.5,"o":0.12,"f":0},{"v":52,"o":0,"f":0},{"v":52.5,"o":0.18,"f":0.01},{"v":53,"o":-0.15,"f":0.02},{"v":53.5,"o":0.1,"f":0.05},{"v":54,"o":0.05,"f":0.09},{"v":54.5,"o":0.2,"f":0.16},{"v":55,"o":0.35,"f":0.25},{"v":55.5,"o":0.5,"f":0.36},{"v":56,"o":0.68,"f":0.47},{"v":56.5,"o":0.55,"f":0.58},{"v":57,"o":0.62,"f":0.65},{"v":57.5,"o":0.3,"f":0.67},{"v":58,"o":0.1,"f":0.64},{"v":58.5,"o":0.45,"f":0.56},{"v":59,"o":0.58,"f":0.45},{"v":59.5,"o":0.4,"f":0.33},{"v":60,"o":0.3,"f":0.23},{"v":60.5,"o":0.12,"f":0.14},{"v":61,"o":0.2,"f":0.08},{"v":61.5,"o":-0.05,"f":0.04},{"v":62,"o":0.15,"f":0.02},{"v":62.5,"o":0.02,"f":0.01},{"v":63,"o":0.18,"f":0},{"v":63.5,"o":-0.1},{"v":64,"o":0.1},{"v":64.5,"o":-0.05},{"v":65,"o":0.25},{"v":65.5,"o":0.05},{"v":66,"o":-0.08},{"v":66.5,"o":0.1},{"v":67,"o":0.12},{"v":67.5,"o":-0.05},{"v":68,"o":-0.12},{"v":68.5,"o":0.15},{"v":69,"o":0.08},{"v":69.5,"o":-0.02},{"v":70,"o":0.2},{"v":70.5,"o":0},{"v":71,"o":-0.1},{"v":71.5,"o":0.12},{"v":72,"o":0.05},{"v":72.5,"o":-0.08},{"v":73,"o":-0.15},{"v":73.5,"o":0.05},{"v":74,"o":0.12},{"v":74.5,"o":0},{"v":75,"o":0},{"v":75.5,"o":0.15},{"v":76,"o":-0.12},{"v":76.5,"o":0.02},{"v":77,"o":0.1},{"v":77.5,"o":-0.05},{"v":78,"o":-0.15},{"v":78.5,"o":0.08},{"v":79,"o":0.05},{"v":79.5,"o":-0.1,"f":0}],
"d2":[{"v":39.5,"o":0.05,"f":0},{"v":40,"o":0.02},{"v":40.5,"o":0.1},{"v":41,"o":-0.05},{"v":41.5,"o":0.05},{"v":42,"o":0.1},{"v":42.5,"o":-0.02},{"v":43,"o":-0.08},{"v":43.5,"o":0.06},{"v":44,"o":0.05},{"v":44.5,"o":-0.04},{"v":45,"o":0.12},{"v":45.5,"o":0},{"v":46,"o":-0.05},{"v":46.5,"o":0.08},{"v":47,"o":0.08},{"v":47.5,"o":-0.02},{"v":48,"o":0},{"v":48.5,"o":0.1},{"v":49,"o":0.12},{"v":49.5,"o":0.02},{"v":50,"o":-0.06},{"v":50.5,"o":0.08},{"v":51,"o":0.1},{"v":51.5,"o":0,"f":0},{"v":52,"o":0.05,"f":0.01},{"v":52.5,"o":0.15,"f":0.03},{"v":53,"o":0.1,"f":0.07},{"v":53.5,"o":0.18,"f":0.14},{"v":54,"o":0.3,"f":0.26},{"v":54.5,"o":0.45,"f":0.45},{"v":55,"o":0.75,"f":0.72},{"v":55.5,"o":1.1,"f":1.05},{"v":56,"o":1.5,"f":1.4},{"v":56.5,"o":1.85,"f":1.71},{"v":56.8,"o":1.95},{"v":57,"o":1.85,"f":1.92},{"v":57.2,"o":1.7},{"v":57.5,"o":1.35,"f":1.97},{"v":57.7,"o":1.1},{"v":58,"o":0.9,"f":1.85},{"v":58.5,"o":1.1,"f":1.59},{"v":58.9,"o":1.22},{"v":59,"o":1.2,"f":1.26},{"v":59.3,"o":1},{"v":59.5,"o":0.85,"f":0.91},{"v":59.7,"o":0.7},{"v":60,"o":0.55,"f":0.6},{"v":60.5,"o":0.3,"f":0.37},{"v":61,"o":0.1,"f":0.2},{"v":61.5,"o":-0.15,"f":0.1},{"v":62,"o":0.05,"f":0.05},{"v":62.5,"o":-0.1,"f":0.02},{"v":63,"o":0.1,"f":0.01},{"v":63.5,"o":-0.05,"f":0},{"v":64,"o":0.12},{"v":64.5,"o":0.02},{"v":65,"o":0},{"v":65.5,"o":0.08},{"v":66,"o":0.1},{"v":66.5,"o":-0.04},{"v":67,"o":-0.08},{"v":67.5,"o":0.06},{"v":68,"o":0.05},{"v":68.5,"o":0.1},{"v":69,"o":0.12},{"v":69.5,"o":-0.02},{"v":70,"o":-0.05},{"v":70.5,"o":0.08},{"v":71,"o":0.08},{"v":71.5,"o":0},{"v":72,"o":0},{"v":72.5,"o":0.1},{"v":73,"o":0.12},{"v":73.5,"o":0.02},{"v":74,"o":-0.06},{"v":74.5,"o":0.05},{"v":75,"o":0.05},{"v":75.5,"o":0.12},{"v":76,"o":0.1},{"v":76.5,"o":-0.03},{"v":77,"o":-0.03},{"v":77.5,"o":0.06},{"v":78,"o":0.08},{"v":78.5,"o":0},{"v":79,"o":0},{"v":79.5,"o":0.08,"f":0}],
"d3":[{"v":39.5,"o":0.05,"f":0},{"v":40,"o":-0.05},{"v":40.5,"o":0.1},{"v":41,"o":0.02},{"v":41.5,"o":-0.08},{"v":42,"o":0.08},{"v":42.5,"o":0},{"v":43,"o":0.12},{"v":43.5,"o":-0.05},{"v":44,"o":0.05},{"v":44.5,"o":0.1},{"v":45,"o":-0.06},{"v":45.5,"o":0.08},{"v":46,"o":0},{"v":46.5,"o":0.12,"f":0},{"v":47,"o":0,"f":0.02},{"v":47.5,"o":0.12,"f":0.07},{"v":48,"o":0.25,"f":0.19},{"v":48.5,"o":0.45,"f":0.37},{"v":49,"o":0.7,"f":0.57},{"v":49.5,"o":0.8,"f":0.68},{"v":50,"o":0.65,"f":0.63},{"v":50.5,"o":0.55,"f":0.45},{"v":51,"o":0.3,"f":0.26},{"v":51.5,"o":0.15,"f":0.11},{"v":52,"o":0.05,"f":0.04},{"v":52.5,"o":0.1,"f":0.01},{"v":53,"o":-0.05,"f":0},{"v":53.5,"o":0.08,"f":0.01},{"v":54,"o":0,"f":0.04},{"v":54.5,"o":0.15,"f":0.11},{"v":55,"o":0.3,"f":0.28},{"v":55.5,"o":0.6,"f":0.57},{"v":56,"o":1,"f":1.01},{"v":56.5,"o":1.55,"f":1.51},{"v":57,"o":1.95,"f":1.91},{"v":57.5,"o":2.05,"f":2.04},{"v":58,"o":1.85,"f":1.85},{"v":58.5,"o":1.4,"f":1.41},{"v":59,"o":0.95,"f":0.92},{"v":59.5,"o":0.5,"f":0.5},{"v":60,"o":0.28,"f":0.24},{"v":60.5,"o":0.1,"f":0.13},{"v":61,"o":0.15,"f":0.15},{"v":61.5,"o":0.35,"f":0.31},{"v":62,"o":0.65,"f":0.61},{"v":62.5,"o":1.05,"f":1},{"v":63,"o":1.4,"f":1.36},{"v":63.5,"o":1.5,"f":1.5},{"v":64,"o":1.35,"f":1.36},{"v":64.5,"o":0.95,"f":1},{"v":65,"o":0.55,"f":0.61},{"v":65.5,"o":0.3,"f":0.3},{"v":66,"o":0.15,"f":0.12},{"v":66.5,"o":0.05,"f":0.04},{"v":67,"o":0.12,"f":0.01},{"v":67.5,"o":-0.05,"f":0},{"v":68,"o":0.1},{"v":68.5,"o":0.02},{"v":69,"o":0.15},{"v":69.5,"o":-0.05},{"v":70,"o":0.08},{"v":70.5,"o":0.1},{"v":71,"o":-0.08},{"v":71.5,"o":0.05},{"v":72,"o":0.12},{"v":72.5,"o":-0.02},{"v":73,"o":0.06},{"v":73.5,"o":0.1},{"v":74,"o":-0.06},{"v":74.5,"o":0.04},{"v":75,"o":0.1},{"v":75.5,"o":-0.05},{"v":76,"o":0.08},{"v":76.5,"o":0},{"v":77,"o":0.12},{"v":77.5,"o":-0.08},{"v":78,"o":0.05},{"v":78.5,"o":0.1},{"v":79,"o":-0.04},{"v":79.5,"o":0.06,"f":0}],
"d4":[{"v":39.5,"o":0.1,"f":0},{"v":40,"o":-0.08},{"v":40.5,"o":0.15},{"v":41,"o":0},{"v":41.5,"o":-0.12},{"v":42,"o":0.1},{"v":42.5,"o":0.05},{"v":43,"o":0.18},{"v":43.5,"o":-0.05},{"v":44,"o":0.08},{"v":44.5,"o":-0.15},{"v":45,"o":0.12},{"v":45.5,"o":0.02},{"v":46,"o":-0.1},{"v":46.5,"o":0.15},{"v":47,"o":0},{"v":47.5,"o":0.1},{"v":48,"o":-0.12},{"v":48.5,"o":0.08},{"v":49,"o":0.2},{"v":49.5,"o":-0.05},{"v":50,"o":0.1},{"v":50.5,"o":-0.1},{"v":51,"o":0.05},{"v":51.5,"o":0.15},{"v":52,"o":-0.08},{"v":52.5,"o":0.1},{"v":53,"o":0},{"v":53.5,"o":0.12},{"v":54,"o":-0.05,"f":0},{"v":54.5,"o":0.1,"f":0.04},{"v":55,"o":0.2,"f":0.15},{"v":55.5,"o":0.45,"f":0.44},{"v":56,"o":1,"f":0.99},{"v":56.5,"o":1.7,"f":1.76},{"v":57,"o":2.4,"f":2.45},{"v":57.5,"o":2.6,"f":2.7},{"v":58,"o":2.3,"f":2.34},{"v":58.5,"o":1.6,"f":1.6},{"v":59,"o":0.85,"f":0.86},{"v":59.5,"o":0.4,"f":0.36},{"v":60,"o":0.15,"f":0.12},{"v":60.5,"o":-0.1,"f":0.03},{"v":61,"o":0.1,"f":0},{"v":61.5,"o":-0.15},{"v":62,"o":0.12},{"v":62.5,"o":0},{"v":63,"o":0.2},{"v":63.5,"o":-0.08},{"v":64,"o":0.1},{"v":64.5,"o":0.02},{"v":65,"o":-0.15},{"v":65.5,"o":0.12},{"v":66,"o":0.05},{"v":66.5,"o":-0.1},{"v":67,"o":0.15},{"v":67.5,"o":0},{"v":68,"o":0.1},{"v":68.5,"o":-0.12},{"v":69,"o":0.08},{"v":69.5,"o":0.18},{"v":70,"o":-0.05},{"v":70.5,"o":0.1},{"v":71,"o":-0.15},{"v":71.5,"o":0.05},{"v":72,"o":0.12},{"v":72.5,"o":-0.08},{"v":73,"o":0.15},{"v":73.5,"o":0.02},{"v":74,"o":-0.1},{"v":74.5,"o":0.1},{"v":75,"o":0.2},{"v":75.5,"o":-0.05},{"v":76,"o":0.08},{"v":76.5,"o":-0.12},{"v":77,"o":0.15},{"v":77.5,"o":0},{"v":78,"o":0.1},{"v":78.5,"o":0.2},{"v":79,"o":-0.05},{"v":79.5,"o":0.1,"f":0}]
},
"columns":4,
"spacing":{"row":0,"column":41},
"bounds":"flush",
"align":"all",
"concat":[
{"width":155,"height":72,"data":{"name":"a1"},"title":{"text":"G34-2","frame":"group","fontSize":13},"layer":[
{"mark":{"type":"line","color":"#000","strokeWidth":1,"clip":true},"encoding":{"x":{"field":"v","type":"quantitative","scale":{"domain":[39.75,79.5],"nice":false,"zero":false},"axis":{"orient":"bottom","title":null}},"y":{"field":"o","type":"quantitative","scale":{"domain":[-0.38,2.06],"nice":false,"zero":false},"axis":{"orient":"left","values":[0,1,2],"title":null}}}},
{"transform":[{"filter":"isValid(datum.f)"}],"mark":{"type":"line","color":"#22e622","strokeWidth":1,"interpolate":"monotone","clip":true},"encoding":{"x":{"field":"v","type":"quantitative","axis":{"orient":"top","title":null}},"y":{"field":"f","type":"quantitative","axis":{"orient":"right","values":[0,1,2],"title":null}}}},
{"data":{"name":"labs"},"transform":[{"filter":"datum.p=='a1'"}],"mark":{"type":"text","color":"#2a2aff","font":"Liberation Serif","fontSize":14},"encoding":{"x":{"datum":72.5,"axis":null},"y":{"datum":1.55,"axis":null},"text":{"field":"m"}}}],
"resolve":{"axis":{"x":"independent","y":"independent"}}},
{"width":155,"height":72,"data":{"name":"b1"},"title":{"text":"G34-3","frame":"group","fontSize":13},"layer":[
{"mark":{"type":"line","color":"#000","strokeWidth":1,"clip":true},"encoding":{"x":{"field":"v","type":"quantitative","scale":{"domain":[39.75,79.5],"nice":false,"zero":false},"axis":{"orient":"bottom","title":null}},"y":{"field":"o","type":"quantitative","scale":{"domain":[-0.34,4.45],"nice":false,"zero":false},"axis":{"orient":"left","values":[0,1,2,3,4],"title":null}}}},
{"transform":[{"filter":"isValid(datum.f)"}],"mark":{"type":"line","color":"#22e622","strokeWidth":1,"interpolate":"monotone","clip":true},"encoding":{"x":{"field":"v","type":"quantitative","axis":{"orient":"top","title":null}},"y":{"field":"f","type":"quantitative","axis":{"orient":"right","values":[0,1,2,3,4],"title":null}}}},
{"data":{"name":"labs"},"transform":[{"filter":"datum.p=='b1'"}],"mark":{"type":"text","color":"#2a2aff","font":"Liberation Serif","fontSize":14},"encoding":{"x":{"datum":72.5,"axis":null},"y":{"datum":3.45,"axis":null},"text":{"field":"m"}}}],
"resolve":{"axis":{"x":"independent","y":"independent"}}},
{"width":155,"height":72,"data":{"name":"c1"},"title":{"text":"G34-4","frame":"group","fontSize":13},"layer":[
{"mark":{"type":"line","color":"#000","strokeWidth":1,"clip":true},"encoding":{"x":{"field":"v","type":"quantitative","scale":{"domain":[39.75,79.5],"nice":false,"zero":false},"axis":{"orient":"bottom","title":null}},"y":{"field":"o","type":"quantitative","scale":{"domain":[-0.245,1.06],"nice":false,"zero":false},"axis":{"orient":"left","values":[0,0.5,1],"title":null}}}},
{"transform":[{"filter":"isValid(datum.f)"}],"mark":{"type":"line","color":"#22e622","strokeWidth":1,"interpolate":"monotone","clip":true},"encoding":{"x":{"field":"v","type":"quantitative","axis":{"orient":"top","title":null}},"y":{"field":"f","type":"quantitative","axis":{"orient":"right","values":[0,0.5,1],"title":null}}}},
{"data":{"name":"labs"},"transform":[{"filter":"datum.p=='c1'"}],"mark":{"type":"text","color":"#2a2aff","font":"Liberation Serif","fontSize":14},"encoding":{"x":{"datum":72.5,"axis":null},"y":{"datum":0.79,"axis":null},"text":{"field":"m"}}}],
"resolve":{"axis":{"x":"independent","y":"independent"}}},
{"width":155,"height":72,"data":{"name":"d1"},"title":{"text":"G34-5","frame":"group","fontSize":13},"layer":[
{"mark":{"type":"line","color":"#000","strokeWidth":1,"clip":true},"encoding":{"x":{"field":"v","type":"quantitative","scale":{"domain":[39.75,79.5],"nice":false,"zero":false},"axis":{"orient":"bottom","title":null}},"y":{"field":"o","type":"quantitative","scale":{"domain":[-0.28,0.76],"nice":false,"zero":false},"axis":{"orient":"left","values":[0,0.5],"title":null}}}},
{"transform":[{"filter":"isValid(datum.f)"}],"mark":{"type":"line","color":"#22e622","strokeWidth":1,"interpolate":"monotone","clip":true},"encoding":{"x":{"field":"v","type":"quantitative","axis":{"orient":"top","title":null}},"y":{"field":"f","type":"quantitative","axis":{"orient":"right","values":[0,0.5],"title":null}}}},
{"data":{"name":"labs"},"transform":[{"filter":"datum.p=='d1'"}],"mark":{"type":"text","color":"#2a2aff","font":"Liberation Serif","fontSize":14},"encoding":{"x":{"datum":72.5,"axis":null},"y":{"datum":0.54,"axis":null},"text":{"field":"m"}}}],
"resolve":{"axis":{"x":"independent","y":"independent"}}},
{"width":155,"height":72,"data":{"name":"a2"},"layer":[
{"mark":{"type":"line","color":"#000","strokeWidth":1,"clip":true},"encoding":{"x":{"field":"v","type":"quantitative","scale":{"domain":[39.75,79.5],"nice":false,"zero":false},"axis":{"orient":"bottom","title":null}},"y":{"field":"o","type":"quantitative","scale":{"domain":[-0.5,4.73],"nice":false,"zero":false},"axis":{"orient":"left","values":[0,2,4],"title":null}}}},
{"transform":[{"filter":"isValid(datum.f)"}],"mark":{"type":"line","color":"#22e622","strokeWidth":1,"interpolate":"monotone","clip":true},"encoding":{"x":{"field":"v","type":"quantitative","axis":{"orient":"top","title":null}},"y":{"field":"f","type":"quantitative","axis":{"orient":"right","values":[0,2,4],"title":null}}}},
{"data":{"name":"labs"},"transform":[{"filter":"datum.p=='a2'"}],"mark":{"type":"text","color":"#2a2aff","font":"Liberation Serif","fontSize":14},"encoding":{"x":{"datum":72.5,"axis":null},"y":{"datum":3.64,"axis":null},"text":{"field":"m"}}}],
"resolve":{"axis":{"x":"independent","y":"independent"}}},
{"width":155,"height":72,"data":{"name":"b2"},"layer":[
{"mark":{"type":"line","color":"#000","strokeWidth":1,"clip":true},"encoding":{"x":{"field":"v","type":"quantitative","scale":{"domain":[39.75,79.5],"nice":false,"zero":false},"axis":{"orient":"bottom","title":null}},"y":{"field":"o","type":"quantitative","scale":{"domain":[-0.48,3.84],"nice":false,"zero":false},"axis":{"orient":"left","values":[0,1,2,3],"title":null}}}},
{"transform":[{"filter":"isValid(datum.f)"}],"mark":{"type":"line","color":"#22e622","strokeWidth":1,"interpolate":"monotone","clip":true},"encoding":{"x":{"field":"v","type":"quantitative","axis":{"orient":"top","title":null}},"y":{"field":"f","type":"quantitative","axis":{"orient":"right","values":[0,1,2,3],"title":null}}}},
{"data":{"name":"labs"},"transform":[{"filter":"datum.p=='b2'"}],"mark":{"type":"text","color":"#2a2aff","font":"Liberation Serif","fontSize":14},"encoding":{"x":{"datum":72.5,"axis":null},"y":{"datum":2.94,"axis":null},"text":{"field":"m"}}}],
"resolve":{"axis":{"x":"independent","y":"independent"}}},
{"width":155,"height":72,"data":{"name":"c2"},"layer":[
{"mark":{"type":"line","color":"#000","strokeWidth":1,"clip":true},"encoding":{"x":{"field":"v","type":"quantitative","scale":{"domain":[39.75,79.5],"nice":false,"zero":false},"axis":{"orient":"bottom","title":null}},"y":{"field":"o","type":"quantitative","scale":{"domain":[-0.4,3.73],"nice":false,"zero":false},"axis":{"orient":"left","values":[0,1,2,3],"title":null}}}},
{"transform":[{"filter":"isValid(datum.f)"}],"mark":{"type":"line","color":"#22e622","strokeWidth":1,"interpolate":"monotone","clip":true},"encoding":{"x":{"field":"v","type":"quantitative","axis":{"orient":"top","title":null}},"y":{"field":"f","type":"quantitative","axis":{"orient":"right","values":[0,1,2,3],"title":null}}}},
{"data":{"name":"labs"},"transform":[{"filter":"datum.p=='c2'"}],"mark":{"type":"text","color":"#2a2aff","font":"Liberation Serif","fontSize":14},"encoding":{"x":{"datum":72.5,"axis":null},"y":{"datum":2.87,"axis":null},"text":{"field":"m"}}}],
"resolve":{"axis":{"x":"independent","y":"independent"}}},
{"width":155,"height":72,"data":{"name":"d2"},"layer":[
{"mark":{"type":"line","color":"#000","strokeWidth":1,"clip":true},"encoding":{"x":{"field":"v","type":"quantitative","scale":{"domain":[39.75,79.5],"nice":false,"zero":false},"axis":{"orient":"bottom","title":null}},"y":{"field":"o","type":"quantitative","scale":{"domain":[-0.34,2.06],"nice":false,"zero":false},"axis":{"orient":"left","values":[0,0.5,1,1.5,2],"title":null}}}},
{"transform":[{"filter":"isValid(datum.f)"}],"mark":{"type":"line","color":"#22e622","strokeWidth":1,"interpolate":"monotone","clip":true},"encoding":{"x":{"field":"v","type":"quantitative","axis":{"orient":"top","title":null}},"y":{"field":"f","type":"quantitative","axis":{"orient":"right","values":[0,0.5,1,1.5,2],"title":null}}}},
{"data":{"name":"labs"},"transform":[{"filter":"datum.p=='d2'"}],"mark":{"type":"text","color":"#2a2aff","font":"Liberation Serif","fontSize":14},"encoding":{"x":{"datum":72.5,"axis":null},"y":{"datum":1.56,"axis":null},"text":{"field":"m"}}}],
"resolve":{"axis":{"x":"independent","y":"independent"}}},
{"width":155,"height":72,"data":{"name":"a3"},"layer":[
{"mark":{"type":"line","color":"#000","strokeWidth":1,"clip":true},"encoding":{"x":{"field":"v","type":"quantitative","scale":{"domain":[39.75,79.5],"nice":false,"zero":false},"axis":{"orient":"bottom","title":null}},"y":{"field":"o","type":"quantitative","scale":{"domain":[-0.56,7.65],"nice":false,"zero":false},"axis":{"orient":"left","values":[0,2,4,6],"title":null}}}},
{"transform":[{"filter":"isValid(datum.f)"}],"mark":{"type":"line","color":"#22e622","strokeWidth":1,"interpolate":"monotone","clip":true},"encoding":{"x":{"field":"v","type":"quantitative","axis":{"orient":"top","title":null}},"y":{"field":"f","type":"quantitative","axis":{"orient":"right","values":[0,2,4,6],"title":null}}}},
{"data":{"name":"labs"},"transform":[{"filter":"datum.p=='a3'"}],"mark":{"type":"text","color":"#2a2aff","font":"Liberation Serif","fontSize":14},"encoding":{"x":{"datum":72.5,"axis":null},"y":{"datum":5.94,"axis":null},"text":{"field":"m"}}}],
"resolve":{"axis":{"x":"independent","y":"independent"}}},
{"width":155,"height":72,"data":{"name":"b3"},"layer":[
{"mark":{"type":"line","color":"#000","strokeWidth":1,"clip":true},"encoding":{"x":{"field":"v","type":"quantitative","scale":{"domain":[39.75,79.5],"nice":false,"zero":false},"axis":{"orient":"bottom","title":null}},"y":{"field":"o","type":"quantitative","scale":{"domain":[-0.56,4.75],"nice":false,"zero":false},"axis":{"orient":"left","values":[0,2,4],"title":null}}}},
{"transform":[{"filter":"isValid(datum.f)"}],"mark":{"type":"line","color":"#22e622","strokeWidth":1,"interpolate":"monotone","clip":true},"encoding":{"x":{"field":"v","type":"quantitative","axis":{"orient":"top","title":null}},"y":{"field":"f","type":"quantitative","axis":{"orient":"right","values":[0,2,4],"title":null}}}},
{"data":{"name":"labs"},"transform":[{"filter":"datum.p=='b3'"}],"mark":{"type":"text","color":"#2a2aff","font":"Liberation Serif","fontSize":14},"encoding":{"x":{"datum":72.5,"axis":null},"y":{"datum":3.64,"axis":null},"text":{"field":"m"}}}],
"resolve":{"axis":{"x":"independent","y":"independent"}}},
{"width":155,"height":72,"data":{"name":"c3"},"layer":[
{"mark":{"type":"line","color":"#000","strokeWidth":1,"clip":true},"encoding":{"x":{"field":"v","type":"quantitative","scale":{"domain":[39.75,79.5],"nice":false,"zero":false},"axis":{"orient":"bottom","title":null}},"y":{"field":"o","type":"quantitative","scale":{"domain":[-0.58,5.77],"nice":false,"zero":false},"axis":{"orient":"left","values":[0,2,4],"title":null}}}},
{"transform":[{"filter":"isValid(datum.f)"}],"mark":{"type":"line","color":"#22e622","strokeWidth":1,"interpolate":"monotone","clip":true},"encoding":{"x":{"field":"v","type":"quantitative","axis":{"orient":"top","title":null}},"y":{"field":"f","type":"quantitative","axis":{"orient":"right","values":[0,2,4],"title":null}}}},
{"data":{"name":"labs"},"transform":[{"filter":"datum.p=='c3'"}],"mark":{"type":"text","color":"#2a2aff","font":"Liberation Serif","fontSize":14},"encoding":{"x":{"datum":72.5,"axis":null},"y":{"datum":4.45,"axis":null},"text":{"field":"m"}}}],
"resolve":{"axis":{"x":"independent","y":"independent"}}},
{"width":155,"height":72,"data":{"name":"d3"},"layer":[
{"mark":{"type":"line","color":"#000","strokeWidth":1,"clip":true},"encoding":{"x":{"field":"v","type":"quantitative","scale":{"domain":[39.75,79.5],"nice":false,"zero":false},"axis":{"orient":"bottom","title":null}},"y":{"field":"o","type":"quantitative","scale":{"domain":[-0.32,2.26],"nice":false,"zero":false},"axis":{"orient":"left","values":[0,1,2],"title":null}}}},
{"transform":[{"filter":"isValid(datum.f)"}],"mark":{"type":"line","color":"#22e622","strokeWidth":1,"interpolate":"monotone","clip":true},"encoding":{"x":{"field":"v","type":"quantitative","axis":{"orient":"top","title":null}},"y":{"field":"f","type":"quantitative","axis":{"orient":"right","values":[0,1,2],"title":null}}}},
{"data":{"name":"labs"},"transform":[{"filter":"datum.p=='d3'"}],"mark":{"type":"text","color":"#2a2aff","font":"Liberation Serif","fontSize":14},"encoding":{"x":{"datum":72.5,"axis":null},"y":{"datum":1.72,"axis":null},"text":{"field":"m"}}}],
"resolve":{"axis":{"x":"independent","y":"independent"}}},
{"width":155,"height":72,"data":{"name":"a4"},"layer":[
{"mark":{"type":"line","color":"#000","strokeWidth":1,"clip":true},"encoding":{"x":{"field":"v","type":"quantitative","scale":{"domain":[39.75,79.5],"nice":false,"zero":false},"axis":{"orient":"bottom","labels":true,"title":"Velocity (km/s)"}},"y":{"field":"o","type":"quantitative","scale":{"domain":[-0.53,4.88],"nice":false,"zero":false},"axis":{"orient":"left","values":[0,2,4],"title":null}}}},
{"transform":[{"filter":"isValid(datum.f)"}],"mark":{"type":"line","color":"#22e622","strokeWidth":1,"interpolate":"monotone","clip":true},"encoding":{"x":{"field":"v","type":"quantitative","axis":{"orient":"top","title":null}},"y":{"field":"f","type":"quantitative","axis":{"orient":"right","values":[0,2,4],"title":null}}}},
{"data":{"name":"labs"},"transform":[{"filter":"datum.p=='a4'"}],"mark":{"type":"text","color":"#2a2aff","font":"Liberation Serif","fontSize":14},"encoding":{"x":{"datum":72.5,"axis":null},"y":{"datum":3.75,"axis":null},"text":{"field":"m"}}}],
"resolve":{"axis":{"x":"independent","y":"independent"}}},
{"width":155,"height":72,"data":{"name":"b4"},"layer":[
{"mark":{"type":"line","color":"#000","strokeWidth":1,"clip":true},"encoding":{"x":{"field":"v","type":"quantitative","scale":{"domain":[39.75,79.5],"nice":false,"zero":false},"axis":{"orient":"bottom","labels":true,"title":"Velocity (km/s)"}},"y":{"field":"o","type":"quantitative","scale":{"domain":[-0.47,2.15],"nice":false,"zero":false},"axis":{"orient":"left","values":[0,1,2],"title":null}}}},
{"transform":[{"filter":"isValid(datum.f)"}],"mark":{"type":"line","color":"#22e622","strokeWidth":1,"interpolate":"monotone","clip":true},"encoding":{"x":{"field":"v","type":"quantitative","axis":{"orient":"top","title":null}},"y":{"field":"f","type":"quantitative","axis":{"orient":"right","values":[0,1,2],"title":null}}}},
{"data":{"name":"labs"},"transform":[{"filter":"datum.p=='b4'"}],"mark":{"type":"text","color":"#2a2aff","font":"Liberation Serif","fontSize":14},"encoding":{"x":{"datum":72.5,"axis":null},"y":{"datum":1.6,"axis":null},"text":{"field":"m"}}}],
"resolve":{"axis":{"x":"independent","y":"independent"}}},
{"width":155,"height":72,"data":{"name":"c4"},"layer":[
{"mark":{"type":"line","color":"#000","strokeWidth":1,"clip":true},"encoding":{"x":{"field":"v","type":"quantitative","scale":{"domain":[39.75,79.5],"nice":false,"zero":false},"axis":{"orient":"bottom","labels":true,"title":"Velocity (km/s)"}},"y":{"field":"o","type":"quantitative","scale":{"domain":[-0.55,3.5],"nice":false,"zero":false},"axis":{"orient":"left","values":[0,1,2,3],"title":null}}}},
{"transform":[{"filter":"isValid(datum.f)"}],"mark":{"type":"line","color":"#22e622","strokeWidth":1,"interpolate":"monotone","clip":true},"encoding":{"x":{"field":"v","type":"quantitative","axis":{"orient":"top","title":null}},"y":{"field":"f","type":"quantitative","axis":{"orient":"right","values":[0,1,2,3],"title":null}}}},
{"data":{"name":"labs"},"transform":[{"filter":"datum.p=='c4'"}],"mark":{"type":"text","color":"#2a2aff","font":"Liberation Serif","fontSize":14},"encoding":{"x":{"datum":72.5,"axis":null},"y":{"datum":2.66,"axis":null},"text":{"field":"m"}}}],
"resolve":{"axis":{"x":"independent","y":"independent"}}},
{"width":155,"height":72,"data":{"name":"d4"},"layer":[
{"mark":{"type":"line","color":"#000","strokeWidth":1,"clip":true},"encoding":{"x":{"field":"v","type":"quantitative","scale":{"domain":[39.75,79.5],"nice":false,"zero":false},"axis":{"orient":"bottom","labels":true,"title":"Velocity (km/s)"}},"y":{"field":"o","type":"quantitative","scale":{"domain":[-0.6,3.0],"nice":false,"zero":false},"axis":{"orient":"left","values":[0,1,2],"title":null}}}},
{"transform":[{"filter":"isValid(datum.f)"}],"mark":{"type":"line","color":"#22e622","strokeWidth":1,"interpolate":"monotone","clip":true},"encoding":{"x":{"field":"v","type":"quantitative","axis":{"orient":"top","title":null}},"y":{"field":"f","type":"quantitative","axis":{"orient":"right","values":[0,1,2],"title":null}}}},
{"data":{"name":"labs"},"transform":[{"filter":"datum.p=='d4'"}],"mark":{"type":"text","color":"#2a2aff","font":"Liberation Serif","fontSize":14},"encoding":{"x":{"datum":72.5,"axis":null},"y":{"datum":2.25,"axis":null},"text":{"field":"m"}}}],
"resolve":{"axis":{"x":"independent","y":"independent"}}}
],
"config":{
"view":{"stroke":"#000","strokeWidth":1},
"axis":{"domain":false,"grid":false,"format":"~g","labelOverlap":false,"labelFont":"Liberation Mono","labelFontSize":11,"labelColor":"#222","titleFont":"Liberation Mono","titleFontSize":11,"titleFontWeight":"normal","titleColor":"#222","tickColor":"#222","tickWidth":1},
"axisBottom":{"tickCount":20,"tickSize":{"condition":{"test":"datum.value % 10 == 0","value":-6},"value":-3},"labels":false,"labelPadding":4,"labelExpr":"datum.value % 10 == 0 && datum.value > 45 ? datum.label : ''","titlePadding":2},
"axisTop":{"tickCount":20,"tickSize":{"condition":{"test":"datum.value % 10 == 0","value":-6},"value":-3},"labels":false},
"axisLeft":{"tickSize":-4,"labelPadding":14},
"axisRight":{"tickSize":-4,"labels":false},
"title":{"font":"Liberation Mono","fontSize":12,"fontWeight":"normal","color":"#222","offset":6}
}
}
